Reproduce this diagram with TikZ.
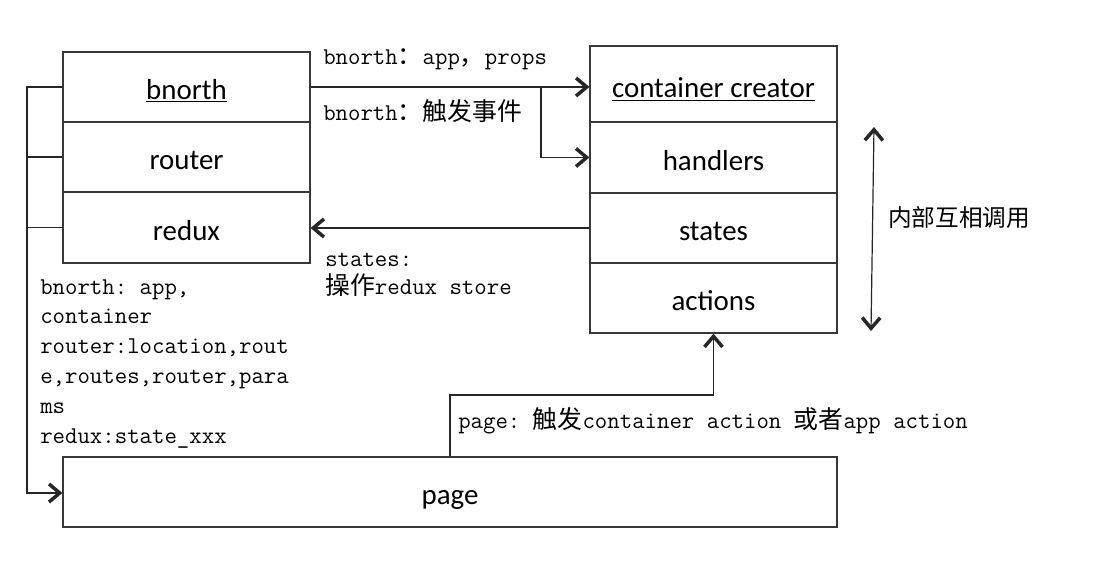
\documentclass[tikz,border=0pt]{standalone}
\usepackage{fontspec}
\setmainfont{Carlito}
\setmonofont{Latin Modern Mono}
\newfontfamily\cjk{Noto Sans CJK SC}[Scale=1.03]
\usetikzlibrary{arrows.meta}
\begin{document}
\begin{tikzpicture}[x=0.75pt,y=-0.75pt,
  row/.style={draw=black!78, line width=0.9pt, minimum width=185.25pt, inner sep=0pt,
    font=\fontsize{21.7}{26}\selectfont, text height=22pt, text depth=3.2pt},
  lbl/.style={anchor=base west, inner sep=0pt, font=\ttfamily\fontsize{18.1}{22}\selectfont},
  conn/.style={black!85, line width=0.9pt},
  tip/.tip={Straight Barb[length=8pt,width=13.5pt,line width=2.6pt]},
  arr/.style={conn, -tip},
]
\useasboundingbox (0,0) rectangle (1120,565);

% left box
\node[row, minimum height=52.5pt] (bnorth) at (186.5,87) {\underline{bnorth}};
\node[row, minimum height=52.5pt] (router) at (186.5,157) {router};
\node[row, minimum height=53.25pt] (redux) at (186.5,227.5) {redux};

% right box
\node[row, minimum height=57pt, text height=24pt] (cc) at (713.5,84) {\underline{container creator}};
\node[row, minimum height=53.25pt] (handlers) at (713.5,157.5) {handlers};
\node[row, minimum height=52.5pt] (states) at (713.5,228) {states};
\node[row, minimum height=52.5pt] (actions) at (713.5,298) {actions};

% page
\node[row, minimum width=580.5pt, minimum height=52.5pt] (page) at (450,492) {page};

% labels
\node[lbl] (l1) at (323,64) {bnorth{\cjk ：}app{\cjk ，}props};
\node[lbl] (l2) at (323,120) {bnorth{\cjk ：触发事件}};
\node[lbl] (l3) at (325,266) {states:};
\node[lbl] (l4) at (325,294) {{\cjk 操作}redux store};
\node[lbl] (l5) at (458,428) {page: {\cjk 触发}container action {\cjk 或者}app action};
\node[lbl] (t1) at (40,294) {bnorth: app,};
\node[lbl] (t2) at (40,323) {container};
\node[lbl] (t3) at (40,353) {router:location,rout};
\node[lbl] (t4) at (40,383) {e,routes,router,para};
\node[lbl] (t5) at (40,413) {ms};
\node[lbl] (t6) at (40,443) {redux:state\_xxx};
\node[anchor=west, inner sep=0pt, font=\cjk\fontsize{17.2}{22}\selectfont] (inner) at (888,218) {内部互相调用};

% connectors
\coordinate (k1) at (541,87);
\draw[arr] (bnorth.east) -- (bnorth.east -| cc.west);
\draw[arr] (bnorth.east) -- (k1) |- (handlers.west);
\draw[arr] (states.west) -- (states.west -| redux.east);
\coordinate (k2) at (450,395);
\draw[arr] (page.north) -- (k2) -| (actions.south);
\coordinate (bus) at (27,493);
\draw[arr] (bnorth.west) -| (bus) -- (bus -| page.west);
\draw[conn] (router.west) -- (router.west -| bus);
\draw[conn] (redux.west) -- (redux.west -| bus);
\coordinate (d1) at (874,127);
\coordinate (d2) at (871,331);
\draw[conn, tip-tip] (d1) -- (d2);
\end{tikzpicture}
\end{document}
